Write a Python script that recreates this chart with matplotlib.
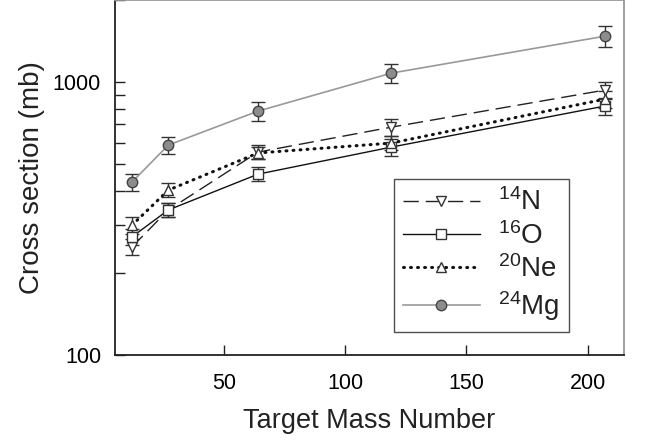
import numpy as np
import matplotlib
matplotlib.use("Agg")
import matplotlib.pyplot as plt

plt.rcParams['font.family'] = ['Liberation Sans', 'DejaVu Sans']
plt.rcParams['mathtext.default'] = 'regular'

# target mass numbers (C, Al, Cu, Sn, Pb)
mass = [12, 27, 64, 119, 207]

# cross sections (mb)
sig_N = [249, 340, 554, 684, 935]
sig_O = [271, 340, 460, 578, 817]
sig_Ne = [299, 402, 550, 598, 866]
sig_Mg = [430, 588, 783, 1079, 1473]

# relative uncertainties
rel_N = [0.07, 0.06, 0.06, 0.07, 0.07]
rel_O = [0.07, 0.06, 0.06, 0.07, 0.07]
rel_Ne = [0.07, 0.06, 0.05, 0.06, 0.07]
rel_Mg = [0.07, 0.07, 0.08, 0.08, 0.09]

labels = [r'$^{14}$N', r'$^{16}$O', r'$^{20}$Ne', r'$^{24}$Mg']

fig = plt.figure(figsize=(6.46, 4.41), dpi=100)
ax = fig.add_axes([0.178, 0.195, 0.788, 0.805])

styles = [
    dict(ls=(0, (11, 5)), color='#222222', marker='v', mfc='white', mec='#333333', ms=7, lw=1.0),
    dict(ls='-', color='#111111', marker='s', mfc='white', mec='#333333', ms=6.5, lw=1.0),
    dict(ls=(0, (0.3, 2.0)), color='#111111', marker='^', mfc='white', mec='#333333', ms=7, lw=2.2,
         dash_capstyle='round'),
    dict(ls='-', color='#999999', marker='o', mfc='#8c8c8c', mec='#444444', ms=7.5, lw=1.2),
]

series = [(sig_N, rel_N), (sig_O, rel_O), (sig_Ne, rel_Ne), (sig_Mg, rel_Mg)]
handles = []
for (y, rel), st, lab in zip(series, styles, labels):
    y = np.array(y, dtype=float)
    err = y * np.array(rel)
    ax.errorbar(mass, y, yerr=err, fmt='none', ecolor='#333333', elinewidth=1.0,
                capsize=5, capthick=1.0, zorder=2)
    h, = ax.plot(mass, y, label=lab, zorder=3, **st)
    handles.append(h)

ax.set_yscale('log')
ax.set_xlim(5, 215)
ax.set_ylim(100, 2000)
ax.set_xticks([50, 100, 150, 200])
ax.set_yticks([100, 1000])
ax.set_yticklabels(['100', '1000'])
ax.yaxis.set_minor_locator(matplotlib.ticker.LogLocator(base=10, subs=np.arange(2, 10)))
ax.yaxis.set_minor_formatter(matplotlib.ticker.NullFormatter())

ax.tick_params(which='both', direction='in', top=False, right=False, labelsize=15.5, color='#222222')
ax.tick_params(which='major', length=7, width=1.0)
ax.tick_params(which='minor', length=7, width=1.0)
ax.tick_params(axis='y', pad=10)
ax.tick_params(axis='x', pad=13)

for side in ['left', 'bottom']:
    ax.spines[side].set_color('#222222')
    ax.spines[side].set_linewidth(1.3)
for side in ['top', 'right']:
    ax.spines[side].set_color('#999999')
    ax.spines[side].set_linewidth(1.3)

ax.set_xlabel('Target Mass Number', fontsize=19.5, labelpad=10, color='#222222')
ax.set_ylabel('Cross section (mb)', fontsize=20, labelpad=6, color='#222222')

leg = ax.legend(handles=handles, loc='upper left', bbox_to_anchor=(0.520, 0.535),
                fontsize=20, frameon=True, fancybox=False, handlelength=2.75,
                labelspacing=0.2, borderpad=0.35, handletextpad=0.65, edgecolor='#222222')
leg.get_frame().set_linewidth(1.0)
for t in leg.get_texts():
    t.set_color('#222222')

fig.savefig('out.png', dpi=100)
